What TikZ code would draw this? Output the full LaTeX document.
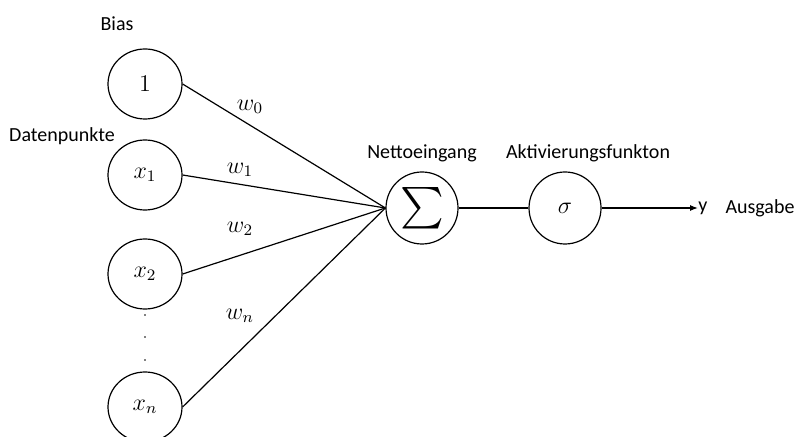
\documentclass[tikz,border=0pt]{standalone}
\usepackage{amsmath}
\usepackage{fontspec}
\setmainfont{Carlito}
\usetikzlibrary{arrows.meta,shapes.geometric}
\begin{document}
\begin{tikzpicture}[x=0.5pt,y=-0.5pt,
  neuron/.style={draw,ellipse,line width=0.6pt,minimum width=37pt,minimum height=35pt,inner sep=0pt,
    font=\fontsize{11.5}{12}\selectfont},
  caption/.style={inner sep=1pt,font=\fontsize{10}{12}\selectfont},
  weight/.style={inner sep=0pt,font=\fontsize{11.5}{12}\selectfont}]
  \useasboundingbox (0,0) rectangle (795,437);
  % inputs
  \node[neuron] (bias) at (145,84) {$1$};
  \node[neuron] (x1) at (145,175) {$x_1$};
  \node[neuron] (x2) at (145,274) {$x_2$};
  \node[neuron] (xn) at (145,407) {$x_n$};
  \foreach \y/\n in {315/d1,337/d2,360/d3}
    \node[circle,fill,inner sep=0pt,minimum size=0.9pt] (\n) at (145,\y) {};
  % neuron
  \node[neuron,minimum width=36pt,minimum height=36pt] (sum) at (422,208)
    {\fontsize{21}{22}\selectfont$\textstyle\sum$\hspace{0pt}};
  \node[neuron,minimum width=36pt,minimum height=36pt] (act) at (565,208) {$\sigma$};
  \node[caption,anchor=west,inner sep=0pt] (y) at (698,208) {y};
  % texts
  \node[caption] (biastext) at (117,24) {Bias};
  \node[caption] (datatext) at (62,136) {Datenpunkte};
  \node[caption] (nettext) at (422,153) {Nettoeingang};
  \node[caption] (acttext) at (588,153) {Aktivierungsfunkton};
  \node[caption] (outtext) at (760,208) {Ausgabe};
  % connections
  \foreach \i in {bias,x1,x2,xn}
    \draw[line width=0.6pt] (\i.east) -- (sum.west);
  \draw[line width=0.6pt] (sum) -- (act);
  \draw[line width=0.6pt,-{Latex[length=4pt,width=3pt]}] (act) -- (y.west);
  \node[weight] (w0) at (250,107) {$w_0$};
  \node[weight] (w1) at (240,170) {$w_1$};
  \node[weight] (w2) at (240,229) {$w_2$};
  \node[weight] (wn) at (240,316) {$w_n$};
\end{tikzpicture}
\end{document}
